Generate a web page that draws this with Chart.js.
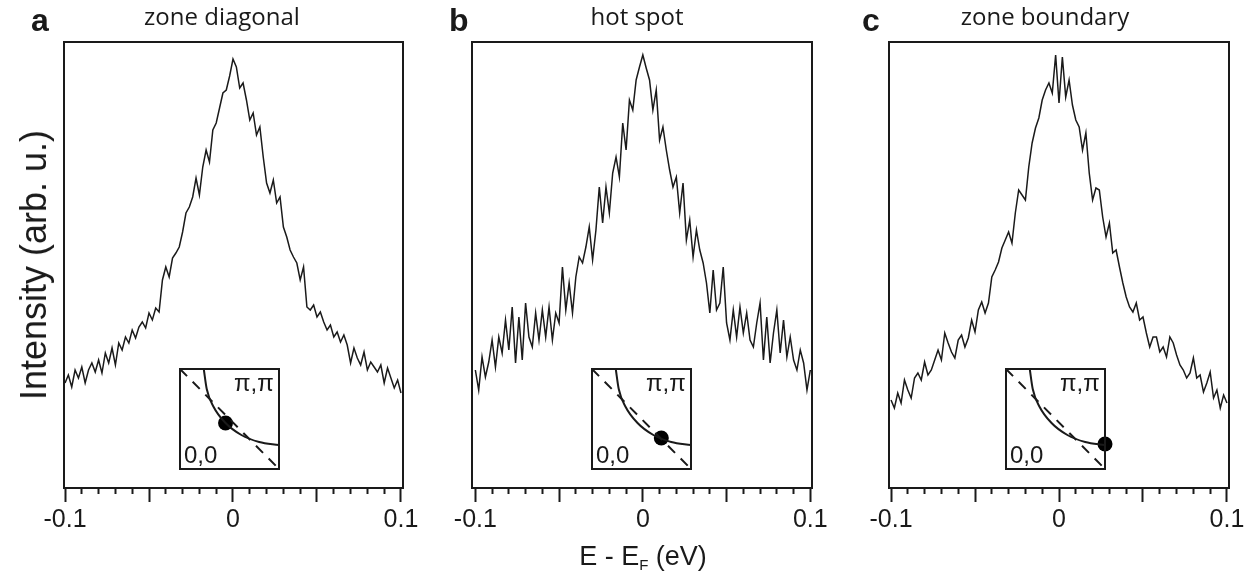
<!DOCTYPE html>
<html>
<head>
<meta charset="utf-8">
<script src="https://cdn.jsdelivr.net/npm/chart.js@4.4.1/dist/chart.umd.min.js"></script>
<style>
  body { margin: 0; background: #fff; }
  #fig { position: relative; width: 1250px; height: 577px; overflow: hidden; color: #1a1a1a;
         font-family: "Liberation Sans", Arial, sans-serif; }
  #fig canvas { position: absolute; }
  .txt { position: absolute; white-space: nowrap; line-height: 1; }
  .letter { font-weight: bold; font-size: 32px; }
  .title { font-family: "Open Sans", sans-serif; font-size: 24px; transform: translateX(-50%); }
  .inset { font-size: 24px; }
  #ytitle { font-size: 36px; transform: translate(-50%, -50%) rotate(-90deg); }
  #xtitle { font-size: 27px; transform: translateX(-50%); }
  #xtitle sub { font-size: 15px; vertical-align: -5px; }
</style>
</head>
<body>
<div id="fig"></div>
<script>
// energy grid (eV) and the three EDC cuts, intensity in arb. u.
const energy = [
  -0.100, -0.098, -0.096, -0.094, -0.092, -0.090, -0.088, -0.086, -0.084, -0.082,
  -0.080, -0.078, -0.076, -0.074, -0.072, -0.070, -0.068, -0.066, -0.064, -0.062,
  -0.060, -0.058, -0.056, -0.054, -0.052, -0.050, -0.048, -0.046, -0.044, -0.042,
  -0.040, -0.038, -0.036, -0.034, -0.032, -0.030, -0.028, -0.026, -0.024, -0.022,
  -0.020, -0.018, -0.016, -0.014, -0.012, -0.010, -0.008, -0.006, -0.004, -0.002,
  0.000,
  0.002, 0.004, 0.006, 0.008, 0.010, 0.012, 0.014, 0.016, 0.018, 0.020,
  0.022, 0.024, 0.026, 0.028, 0.030, 0.032, 0.034, 0.036, 0.038, 0.040,
  0.042, 0.044, 0.046, 0.048, 0.050, 0.052, 0.054, 0.056, 0.058, 0.060,
  0.062, 0.064, 0.066, 0.068, 0.070, 0.072, 0.074, 0.076, 0.078, 0.080,
  0.082, 0.084, 0.086, 0.088, 0.090, 0.092, 0.094, 0.096, 0.098, 0.100
];

const zoneDiagonal = [
  105, 113, 101, 118, 110, 121, 105, 118, 125, 116,
  128, 115, 135, 125, 140, 123, 145, 138, 151, 145,
  158, 150, 161, 166, 160, 175, 168, 180, 176, 208,
  221, 211, 230, 235, 241, 256, 275, 281, 291, 310,
  293, 321, 338, 326, 358, 365, 380, 395, 398, 412,
  429,
  421, 400, 405, 388, 368, 375, 353, 361, 331, 305,
  295, 308, 285, 291, 261, 251, 238, 231, 225, 208,
  221, 181, 178, 183, 171, 176, 166, 158, 163, 151,
  156, 146, 153, 143, 125, 140, 130, 123, 136, 118,
  126, 121, 116, 123, 105, 120, 110, 100, 108, 95
];

const hotSpot = [
  118, 98, 131, 111, 126, 148, 121, 151, 135, 168,
  138, 181, 125, 171, 128, 185, 151, 141, 175, 148,
  178, 151, 181, 148, 175, 165, 221, 178, 205, 175,
  211, 231, 225, 241, 261, 228, 258, 301, 265, 301,
  275, 315, 331, 311, 365, 338, 388, 378, 408, 421,
  433,
  420, 408, 378, 398, 348, 361, 338, 318, 301, 311,
  275, 305, 248, 268, 231, 258, 238, 225, 205, 175,
  218, 178, 185, 221, 165, 148, 178, 151, 181, 155,
  175, 148, 141, 165, 185, 128, 171, 125, 155, 178,
  135, 168, 131, 151, 128, 118, 138, 125, 98, 118
];

const zoneBoundary = [
  88, 80, 95, 85, 108, 98, 90, 110, 115, 108,
  126, 113, 118, 128, 138, 128, 155, 145, 136, 130,
  148, 153, 141, 150, 168, 156, 178, 186, 175, 185,
  211, 218, 226, 240, 248, 256, 245, 275, 298, 293,
  288, 321, 345, 360, 370, 388, 398, 405, 395, 433,
  385,
  431, 391, 408, 383, 368, 361, 338, 355, 315, 288,
  300, 298, 271, 251, 265, 235, 238, 221, 205, 191,
  181, 176, 185, 168, 171, 155, 141, 151, 151, 136,
  141, 131, 151, 145, 133, 123, 118, 110, 115, 130,
  110, 113, 96, 105, 116, 90, 98, 80, 93, 85
];

const tickValues = [-0.1, -0.09, -0.08, -0.07, -0.06, -0.05, -0.04, -0.03, -0.02, -0.01,
  0, 0.01, 0.02, 0.03, 0.04, 0.05, 0.06, 0.07, 0.08, 0.09, 0.1];
const tickLabels = ['-0.1', '', '', '', '', '', '', '', '', '',
  '0', '', '', '', '', '', '', '', '', '', '0.1'];
const majorTicks = [-0.1, -0.05, 0, 0.05, 0.1];

const panelLetters = ['a', 'b', 'c'];
const panelTitles = ['zone diagonal', 'hot spot', 'zone boundary'];

// inset: quarter Brillouin zone, (0,0) bottom-left, (pi,pi) top-right
const arcKx = [0.24, 0.27, 0.34, 0.46, 0.62, 0.80, 1.0];
const arcKy = [1.0, 0.80, 0.62, 0.46, 0.34, 0.27, 0.24];
const zbKx = [0, 1];
const zbKy = [1, 0];
const cutKx = [0.46, 0.70, 1.0];
const cutKy = [0.46, 0.31, 0.25];

const series = [zoneDiagonal, hotSpot, zoneBoundary];
const ink = '#1a1a1a';

// plot boxes in page pixels
const boxes = [
  { left: 64, width: 339, xmin: -0.1006, xmax: 0.1012, title: 222, letter: 31, inset: 180 },
  { left: 472, width: 340, xmin: -0.102, xmax: 0.101, title: 637, letter: 449, inset: 592 },
  { left: 889, width: 340, xmin: -0.1012, xmax: 0.1012, title: 1045, letter: 862, inset: 1006 }
];
const boxTop = 42, boxH = 446;

const fig = document.getElementById('fig');

const framePlugin = {
  id: 'frame',
  afterDraw(chart) {
    const a = chart.chartArea, c = chart.ctx;
    c.save();
    c.strokeStyle = ink;
    c.lineWidth = 2;
    c.strokeRect(a.left, a.top, a.right - a.left, a.bottom - a.top);
    c.restore();
  }
};

function isMajor(v) {
  return majorTicks.some(m => Math.abs(m - v) < 1e-6);
}

function addText(cls, html, left, top, id) {
  const d = document.createElement('div');
  d.className = 'txt ' + cls;
  if (id) d.id = id;
  d.innerHTML = html;
  d.style.left = left + 'px';
  d.style.top = top + 'px';
  fig.appendChild(d);
  return d;
}

boxes.forEach((b, i) => {
  const cv = document.createElement('canvas');
  cv.width = b.width + 60;
  cv.height = 10 + boxH + 70;
  cv.style.left = (b.left - 30) + 'px';
  cv.style.top = (boxTop - 10) + 'px';
  fig.appendChild(cv);

  new Chart(cv, {
    type: 'line',
    data: {
      datasets: [{
        data: energy.map((e, k) => ({ x: e, y: series[i][k] })),
        borderColor: ink,
        borderWidth: 1.5,
        pointRadius: 0,
        tension: 0
      }]
    },
    options: {
      responsive: false,
      animation: false,
      devicePixelRatio: 1,
      layout: { padding: { left: 30, right: 30, top: 10, bottom: 0 } },
      plugins: { legend: { display: false }, tooltip: { enabled: false } },
      scales: {
        x: {
          type: 'linear',
          min: b.xmin,
          max: b.xmax,
          afterBuildTicks: s => { s.ticks = tickValues.map(v => ({ value: v })); },
          afterFit: s => { s.height = 70; },
          border: { display: false },
          grid: {
            drawOnChartArea: false,
            tickLength: 14,
            tickWidth: 2,
            tickColor: ink,
            tickBorderDash: ctx => isMajor(ctx.tick.value) ? [] : [6, 40]
          },
          ticks: {
            autoSkip: false,
            maxRotation: 0,
            padding: 3,
            color: ink,
            font: { family: '"Liberation Sans", Arial, sans-serif', size: 25 },
            callback: (v, idx) => tickLabels[idx]
          }
        },
        y: { display: false, min: 0, max: boxH }
      }
    },
    plugins: [framePlugin]
  });

  // inset Fermi surface sketch
  const ic = document.createElement('canvas');
  ic.width = 119; ic.height = 120;
  ic.style.left = (b.inset - 10) + 'px';
  ic.style.top = '359px';
  fig.appendChild(ic);
  new Chart(ic, {
    type: 'scatter',
    data: {
      datasets: [
        { data: zbKx.map((x, k) => ({ x, y: zbKy[k] })), showLine: true, borderColor: ink,
          borderWidth: 2, borderDash: [10, 8], pointRadius: 0, clip: false },
        { data: arcKx.map((x, k) => ({ x, y: arcKy[k] })), showLine: true, borderColor: ink,
          borderWidth: 2, cubicInterpolationMode: 'monotone', pointRadius: 0, clip: false },
        { data: [{ x: cutKx[i], y: cutKy[i] }], pointRadius: 7.5, backgroundColor: '#000',
          borderWidth: 0, clip: false }
      ]
    },
    options: {
      responsive: false,
      animation: false,
      devicePixelRatio: 1,
      layout: { padding: 10 },
      plugins: { legend: { display: false }, tooltip: { enabled: false } },
      scales: {
        x: { display: false, min: 0, max: 1 },
        y: { display: false, min: 0, max: 1 }
      }
    },
    plugins: [framePlugin]
  });

  const pp = addText('inset', '\u03c0,\u03c0', 0, 371);
  pp.style.left = (b.inset + 99 - 5 - pp.offsetWidth) + 'px';
  addText('inset', '0,0', b.inset + 4, 443);

  addText('letter', panelLetters[i], b.letter, 4);
  addText('title', panelTitles[i], b.title, 4);
});

addText('', 'Intensity (arb. u.)', 34, 265, 'ytitle');
addText('', 'E - E<sub>F</sub> (eV)', 643, 543, 'xtitle');
</script>
</body>
</html>
